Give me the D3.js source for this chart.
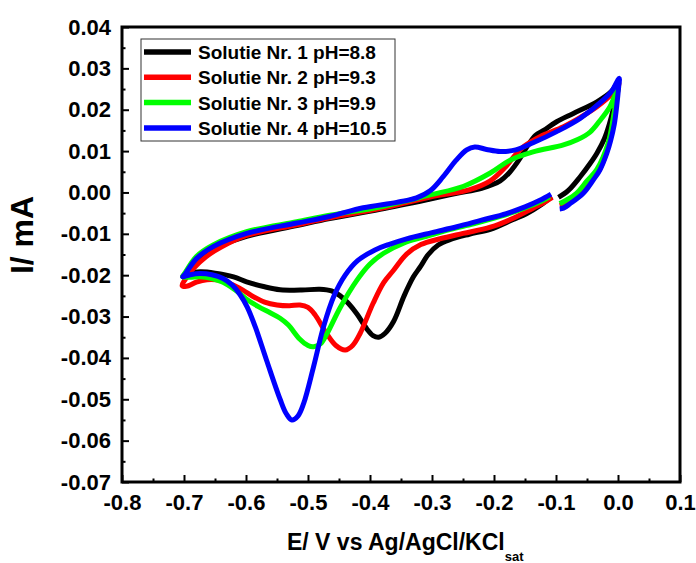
<!DOCTYPE html>
<html>
<head>
<meta charset="utf-8">
<script src="https://cdn.jsdelivr.net/npm/d3@7/dist/d3.min.js"></script>
<style>
  body { margin: 0; background: #fff; }
  svg text { font-family: "Liberation Sans", Arial, sans-serif; font-weight: bold; fill: #000; }
</style>
</head>
<body>
<div id="chart"></div>
<script>
// axis ticks
const xTicks = [-0.8, -0.7, -0.6, -0.5, -0.4, -0.3, -0.2, -0.1, 0.0, 0.1];
const yTicks = [-0.07, -0.06, -0.05, -0.04, -0.03, -0.02, -0.01, 0.00, 0.01, 0.02, 0.03, 0.04];

const seriesNames = ['Solutie Nr. 1 pH=8.8', 'Solutie Nr. 2 pH=9.3', 'Solutie Nr. 3 pH=9.9', 'Solutie Nr. 4 pH=10.5'];
const seriesColors = ['#000000', '#ff0000', '#00ff00', '#0000ff'];

// each loop: start right of the gap at -0.1 V, up to 0 V, back along the upper branch to -0.7 V,
// then along the lower branch (reduction peak) to -0.1 V   [E (V), I (mA)]
const sol1 = [
  [-0.096, -0.0012], [-0.080, 0.0005], [-0.061, 0.0038], [-0.045, 0.0070], [-0.034, 0.0095], [-0.022, 0.0130],
  [-0.014, 0.0165], [-0.007, 0.0205], [-0.002, 0.0240], [0.001, 0.0268],
  [-0.010, 0.0245], [-0.034, 0.0219], [-0.072, 0.0191], [-0.099, 0.0171], [-0.120, 0.0150], [-0.133, 0.0138],
  [-0.147, 0.0110], [-0.160, 0.0078], [-0.174, 0.0050], [-0.190, 0.0028], [-0.220, 0.0010], [-0.260, -0.0002],
  [-0.303, -0.0016], [-0.384, -0.0041], [-0.465, -0.0063], [-0.518, -0.0080], [-0.599, -0.0106], [-0.640, -0.0128],
  [-0.665, -0.0148], [-0.685, -0.0172], [-0.698, -0.0197], [-0.702, -0.0203],
  [-0.690, -0.0195], [-0.674, -0.0192], [-0.650, -0.0195], [-0.620, -0.0204], [-0.599, -0.0216], [-0.570, -0.0228],
  [-0.545, -0.0235], [-0.510, -0.0236], [-0.481, -0.0234], [-0.462, -0.0238], [-0.448, -0.0250], [-0.435, -0.0268],
  [-0.421, -0.0294], [-0.405, -0.0330], [-0.395, -0.0346], [-0.386, -0.0350], [-0.376, -0.0341], [-0.362, -0.0312],
  [-0.345, -0.0250], [-0.330, -0.0204], [-0.319, -0.0180], [-0.306, -0.0150], [-0.290, -0.0127], [-0.271, -0.0114],
  [-0.240, -0.0101], [-0.206, -0.0089], [-0.170, -0.0066], [-0.147, -0.0051], [-0.125, -0.0031], [-0.107, -0.0010]
];
const sol2 = [
  [-0.094, -0.0032], [-0.085, -0.0027], [-0.070, -0.0010], [-0.056, 0.0006], [-0.040, 0.0035], [-0.029, 0.0058],
  [-0.016, 0.0110], [-0.007, 0.0175], [-0.002, 0.0230], [0.001, 0.0266],
  [-0.010, 0.0238], [-0.034, 0.0207], [-0.060, 0.0182], [-0.088, 0.0159], [-0.126, 0.0135], [-0.153, 0.0110],
  [-0.166, 0.0090], [-0.180, 0.0064], [-0.206, 0.0028], [-0.239, 0.0007], [-0.303, -0.0011], [-0.384, -0.0039],
  [-0.465, -0.0061], [-0.518, -0.0078], [-0.599, -0.0104], [-0.640, -0.0132], [-0.665, -0.0156], [-0.685, -0.0184],
  [-0.698, -0.0210], [-0.703, -0.0225],
  [-0.696, -0.0227], [-0.680, -0.0217], [-0.663, -0.0211], [-0.640, -0.0213], [-0.626, -0.0220], [-0.605, -0.0236],
  [-0.588, -0.0252], [-0.570, -0.0265], [-0.550, -0.0272], [-0.530, -0.0274], [-0.513, -0.0272], [-0.500, -0.0278],
  [-0.489, -0.0295], [-0.470, -0.0341], [-0.455, -0.0370], [-0.440, -0.0381], [-0.428, -0.0370], [-0.416, -0.0341],
  [-0.395, -0.0268], [-0.378, -0.0218], [-0.362, -0.0188], [-0.341, -0.0149], [-0.318, -0.0126], [-0.287, -0.0112],
  [-0.250, -0.0099], [-0.206, -0.0084], [-0.170, -0.0063], [-0.137, -0.0038], [-0.120, -0.0025], [-0.106, -0.0012]
];
const sol3 = [
  [-0.094, -0.0027], [-0.085, -0.0020], [-0.067, -0.0002], [-0.050, 0.0028], [-0.034, 0.0056], [-0.016, 0.0119],
  [-0.006, 0.0195], [-0.001, 0.0240], [0.001, 0.0256],
  [-0.013, 0.0207], [-0.030, 0.0172], [-0.045, 0.0146], [-0.065, 0.0128], [-0.088, 0.0115], [-0.137, 0.0098],
  [-0.174, 0.0078], [-0.206, 0.0047], [-0.249, 0.0015], [-0.303, -0.0006], [-0.384, -0.0035], [-0.465, -0.0055],
  [-0.518, -0.0071], [-0.599, -0.0095], [-0.653, -0.0127], [-0.680, -0.0155], [-0.698, -0.0194], [-0.702, -0.0204],
  [-0.690, -0.0205], [-0.674, -0.0204], [-0.655, -0.0208], [-0.637, -0.0217], [-0.618, -0.0235], [-0.599, -0.0258],
  [-0.580, -0.0276], [-0.561, -0.0291], [-0.545, -0.0304], [-0.532, -0.0320], [-0.513, -0.0355], [-0.500, -0.0370],
  [-0.491, -0.0373], [-0.480, -0.0366], [-0.470, -0.0343], [-0.448, -0.0278], [-0.421, -0.0212], [-0.400, -0.0173],
  [-0.378, -0.0147], [-0.345, -0.0122], [-0.314, -0.0108], [-0.270, -0.0089], [-0.233, -0.0076], [-0.190, -0.0058],
  [-0.153, -0.0039], [-0.125, -0.0022], [-0.110, -0.0010]
];
const sol4 = [
  [-0.094, -0.0040], [-0.088, -0.0038], [-0.078, -0.0028], [-0.056, -0.0002], [-0.040, 0.0030], [-0.029, 0.0055],
  [-0.018, 0.0095], [-0.012, 0.0125], [-0.006, 0.0165], [-0.002, 0.0210], [0.001, 0.0255], [0.002, 0.0276],
  [-0.010, 0.0245], [-0.024, 0.0223], [-0.061, 0.0179], [-0.099, 0.0147], [-0.137, 0.0120], [-0.165, 0.0103],
  [-0.190, 0.0099], [-0.212, 0.0104], [-0.231, 0.0110], [-0.244, 0.0103], [-0.261, 0.0078], [-0.282, 0.0038],
  [-0.303, 0.0004], [-0.325, -0.0013], [-0.357, -0.0024], [-0.411, -0.0037], [-0.465, -0.0058], [-0.518, -0.0074],
  [-0.599, -0.0099], [-0.653, -0.0131], [-0.680, -0.0160], [-0.698, -0.0197], [-0.702, -0.0204],
  [-0.690, -0.0199], [-0.674, -0.0196], [-0.655, -0.0199], [-0.637, -0.0208], [-0.622, -0.0224], [-0.610, -0.0246],
  [-0.598, -0.0277], [-0.585, -0.0325], [-0.567, -0.0405], [-0.545, -0.0500], [-0.535, -0.0535], [-0.526, -0.0550],
  [-0.516, -0.0540], [-0.507, -0.0510], [-0.491, -0.0421], [-0.475, -0.0325], [-0.458, -0.0250], [-0.440, -0.0200],
  [-0.420, -0.0165], [-0.392, -0.0139], [-0.370, -0.0126], [-0.341, -0.0112], [-0.300, -0.0097], [-0.260, -0.0083],
  [-0.220, -0.0067], [-0.180, -0.0051], [-0.150, -0.0035], [-0.126, -0.0019], [-0.108, -0.0004]
];
const allSeries = [sol1, sol2, sol3, sol4];

const width = 696, height = 563;
const margin = {top: 27, right: 16, bottom: 81, left: 122};
const plotW = width - margin.left - margin.right;
const plotH = height - margin.top - margin.bottom;

const svg = d3.select('#chart').append('svg')
    .attr('width', width)
    .attr('height', height);

const x = d3.scaleLinear().domain([-0.8, 0.1]).range([margin.left, margin.left + plotW]);
const y = d3.scaleLinear().domain([-0.07, 0.04]).range([margin.top + plotH, margin.top]);

// minor ticks halfway between the labelled ones
const xMinor = xTicks.slice(0, -1).map(function(d) { return d + 0.05; });
const yMinor = yTicks.slice(0, -1).map(function(d) { return d + 0.005; });

function styleAxis(g) {
  g.select('.domain').remove();
  g.selectAll('line').attr('stroke', '#000').attr('stroke-width', 2);
}

svg.append('g')
    .attr('transform', 'translate(0,' + (margin.top + plotH) + ')')
    .call(d3.axisBottom(x).tickValues(xMinor).tickSize(-3.5).tickFormat(''))
    .call(styleAxis);
svg.append('g')
    .attr('transform', 'translate(0,' + (margin.top + plotH) + ')')
    .call(d3.axisBottom(x).tickValues(xTicks).tickSize(-7).tickPadding(12)
      .tickFormat(function(d) { return d.toFixed(1); }))
    .call(styleAxis)
    .selectAll('text')
      .attr('font-size', 22);

svg.append('g')
    .attr('transform', 'translate(' + margin.left + ',0)')
    .call(d3.axisLeft(y).tickValues(yMinor).tickSize(-3.5).tickFormat(''))
    .call(styleAxis);
svg.append('g')
    .attr('transform', 'translate(' + margin.left + ',0)')
    .call(d3.axisLeft(y).tickValues(yTicks).tickSize(-7).tickPadding(11)
      .tickFormat(function(d) { return Math.abs(d) < 1e-9 ? '0.00' : d.toFixed(2); }))
    .call(styleAxis)
    .selectAll('text')
      .attr('font-size', 22);

// frame
svg.append('rect')
    .attr('x', margin.left)
    .attr('y', margin.top)
    .attr('width', plotW)
    .attr('height', plotH)
    .attr('fill', 'none')
    .attr('stroke', '#000')
    .attr('stroke-width', 3);

// curves
const line = d3.line()
    .x(function(d) { return x(d[0]); })
    .y(function(d) { return y(d[1]); })
    .curve(d3.curveCatmullRom.alpha(0.5));

svg.append('g').selectAll('path')
    .data(allSeries)
  .enter().append('path')
    .attr('d', line)
    .attr('fill', 'none')
    .attr('stroke', function(d, i) { return seriesColors[i]; })
    .attr('stroke-width', 5)
    .attr('stroke-linejoin', 'round')
    .attr('stroke-linecap', 'butt');

// legend
const legend = svg.append('g').attr('transform', 'translate(141,39)');
legend.append('rect')
    .attr('width', 254)
    .attr('height', 102)
    .attr('fill', '#fff')
    .attr('stroke', '#333')
    .attr('stroke-width', 1);
const rows = legend.selectAll('g.row')
    .data(seriesNames)
  .enter().append('g')
    .attr('class', 'row')
    .attr('transform', function(d, i) { return 'translate(0,' + (13 + i * 25.3) + ')'; });
rows.append('line')
    .attr('x1', 3).attr('x2', 50)
    .attr('stroke', function(d, i) { return seriesColors[i]; })
    .attr('stroke-width', 5.5);
rows.append('text')
    .attr('x', 57)
    .attr('y', 7)
    .attr('font-size', 19)
    .text(function(d) { return d; });

// axis titles
svg.append('text')
    .attr('transform', 'translate(33,235) rotate(-90)')
    .attr('text-anchor', 'middle')
    .attr('font-size', 32)
    .text('I/ mA');

const xTitle = svg.append('text')
    .attr('x', 287)
    .attr('y', 550)
    .attr('font-size', 23);
xTitle.append('tspan').text('E/ V vs Ag/AgCl/KCl');
xTitle.append('tspan')
    .attr('dy', 11)
    .attr('font-size', 13)
    .text('sat');
</script>
</body>
</html>
